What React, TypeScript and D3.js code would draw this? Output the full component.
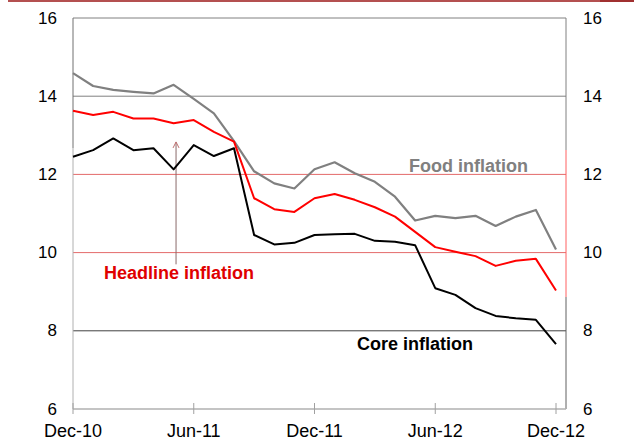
import React from "react";
import * as d3 from "d3";

// Monthly observations Dec-10 .. Dec-12 (25 months)
const months: string[] = [
  "Dec-10","Jan-11","Feb-11","Mar-11","Apr-11","May-11","Jun-11","Jul-11","Aug-11","Sep-11","Oct-11","Nov-11",
  "Dec-11","Jan-12","Feb-12","Mar-12","Apr-12","May-12","Jun-12","Jul-12","Aug-12","Sep-12","Oct-12","Nov-12","Dec-12",
];
const foodInflation: number[] = [
  14.59, 14.26, 14.16, 14.11, 14.07, 14.29, 13.93, 13.56, 12.85, 12.08, 11.77, 11.64,
  12.13, 12.31, 12.03, 11.81, 11.43, 10.82, 10.94, 10.88, 10.94, 10.68, 10.92, 11.09, 10.08,
];
const headlineInflation: number[] = [
  13.63, 13.52, 13.60, 13.43, 13.43, 13.31, 13.39, 13.09, 12.84, 11.39, 11.11, 11.04,
  11.39, 11.50, 11.35, 11.16, 10.92, 10.53, 10.14, 10.02, 9.91, 9.66, 9.79, 9.84, 9.03,
];
const coreInflation: number[] = [
  12.45, 12.62, 12.92, 12.62, 12.67, 12.13, 12.75, 12.47, 12.67, 10.45, 10.21, 10.25,
  10.45, 10.47, 10.48, 10.30, 10.28, 10.19, 9.09, 8.92, 8.58, 8.38, 8.32, 8.28, 7.66,
];
const yTicks: number[] = [6, 8, 10, 12, 14, 16];
const xTickLabels: string[] = ["Dec-10", "Jun-11", "Dec-11", "Jun-12", "Dec-12"];
const seriesLabels: string[] = ["Food inflation", "Headline inflation", "Core inflation"];

const W = 634;
const H = 446;
const left = 73;
const right = 566;
const top = 18;
const bottom = 409;
const FONT = "'Liberation Sans', Arial, sans-serif";

export default function App() {
  const x = d3.scaleLinear().domain([0, 24]).range([73, 556]);
  const y = d3.scaleLinear().domain([6, 16]).range([bottom, top]);
  const line = d3
    .line<number>()
    .x((_, i) => x(i))
    .y((v) => y(v));

  const gridColor = (t: number) =>
    t === 16 || t === 14 ? "#808080" : t === 12 || t === 10 ? "#e46a6a" : t === 8 ? "#404040" : "none";

  const xTickIdx = xTickLabels.map((l) => months.indexOf(l));
  const arrowX = x(5.12);
  const arrowTop = y(12.83);
  const arrowBottom = y(9.7);

  return (
    <svg
      width={W}
      height={H}
      style={{ position: "absolute", left: 0, top: 0, background: "#fff" }}
      fontFamily={FONT}
    >
      <rect x={0} y={0} width={W} height={H} fill="#fff" />
      {/* top band */}
      <rect x={8} y={0} width={W - 8} height={2} fill="#b45050" />
      <rect x={600} y={0} width={W - 600} height={2} fill="#a03030" />

      {/* horizontal gridlines */}
      {yTicks
        .filter((t) => t !== 6)
        .map((t) => (
          <line key={t} x1={left} x2={right} y1={y(t)} y2={y(t)} stroke={gridColor(t)} strokeWidth={1} />
        ))}

      {/* left border */}
      <line x1={left} x2={left} y1={top} y2={148} stroke="#707070" strokeWidth={1} />
      <line x1={left} x2={left} y1={148} y2={bottom} stroke="#b0b0b0" strokeWidth={1} />
      {/* right border */}
      <line x1={right} x2={right} y1={top} y2={150} stroke="#808080" strokeWidth={1} />
      <line x1={right} x2={right} y1={150} y2={297} stroke="#ff6060" strokeWidth={1} />
      <line x1={right} x2={right} y1={297} y2={bottom} stroke="#606060" strokeWidth={1} />

      {/* x axis */}
      <line x1={left} x2={right} y1={bottom} y2={bottom} stroke="#b0b0b0" strokeWidth={1.5} />
      {xTickIdx.map((i) => (
        <line key={i} x1={x(i)} x2={x(i)} y1={bottom - 6} y2={bottom + 5} stroke="#a0a0a0" strokeWidth={1} />
      ))}

      {/* annotation arrow */}
      <line x1={arrowX} x2={arrowX} y1={arrowTop} y2={arrowBottom} stroke="#8a6a6a" strokeWidth={1} />
      <polyline
        points={`${arrowX - 3},${arrowTop + 6} ${arrowX},${arrowTop} ${arrowX + 3},${arrowTop + 6}`}
        fill="none"
        stroke="#c07070"
        strokeWidth={1}
      />

      {/* series */}
      <path d={line(foodInflation) || ""} fill="none" stroke="#808080" strokeWidth={2.2} strokeLinejoin="round" />
      <path d={line(headlineInflation) || ""} fill="none" stroke="#ff0000" strokeWidth={2} strokeLinejoin="round" />
      <path d={line(coreInflation) || ""} fill="none" stroke="#000000" strokeWidth={2} strokeLinejoin="round" />

      {/* y tick labels */}
      {yTicks.map((t) => (
        <g key={t} fontSize={17} fill="#000">
          <text x={57} y={y(t)} textAnchor="end" dominantBaseline="central">{t}</text>
          <text x={583} y={y(t)} textAnchor="start" dominantBaseline="central">{t}</text>
        </g>
      ))}

      {/* x tick labels */}
      {xTickIdx.map((i, k) => (
        <text key={i} x={x(i)} y={437} textAnchor="middle" fontSize={18} fill="#000">
          {xTickLabels[k]}
        </text>
      ))}

      {/* series labels */}
      <text x={409} y={172} fontSize={18} fontWeight="bold" fill="#808080">{seriesLabels[0]}</text>
      <text x={104} y={279} fontSize={18} fontWeight="bold" fill="#e00000">{seriesLabels[1]}</text>
      <text x={357} y={350} fontSize={18} fontWeight="bold" fill="#000">{seriesLabels[2]}</text>
    </svg>
  );
}
